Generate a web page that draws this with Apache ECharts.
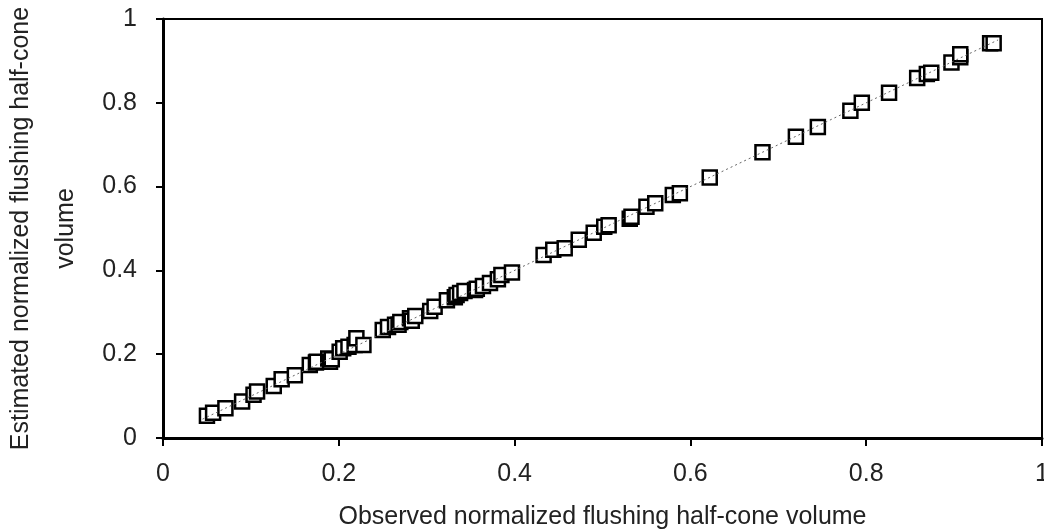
<!DOCTYPE html>
<html><head><meta charset="utf-8">
<script src="https://cdn.jsdelivr.net/npm/echarts@6/dist/echarts.min.js"></script>
<style>html,body{margin:0;padding:0;background:#fff}#c{width:1044px;height:532px}</style>
</head><body><div id="c"></div>
<script>
const observed = [0.050,0.057,0.071,0.090,0.103,0.107,0.126,0.135,0.150,0.167,0.174,0.175,0.188,0.190,0.192,0.201,0.205,0.211,0.218,0.220,0.228,
  0.250,0.256,0.264,0.268,0.270,0.281,0.283,0.287,0.304,0.309,0.323,0.332,0.334,0.338,0.343,0.355,0.357,0.364,0.372,0.381,0.385,0.397,
  0.433,0.444,0.457,0.473,0.490,0.502,0.507,0.531,0.533,0.550,0.560,0.580,0.588,
  0.622,0.682,0.720,0.745,0.782,0.795,0.826,0.858,0.869,0.874,0.897,0.907,0.907,0.941,0.945];
const estimated = [0.053,0.060,0.071,0.087,0.103,0.111,0.124,0.140,0.150,0.174,0.180,0.182,0.190,0.182,0.188,0.206,0.214,0.218,0.222,0.238,0.222,
  0.258,0.265,0.270,0.270,0.277,0.286,0.280,0.291,0.303,0.313,0.329,0.336,0.341,0.346,0.351,0.353,0.356,0.363,0.370,0.379,0.389,0.395,
  0.437,0.449,0.453,0.473,0.490,0.504,0.508,0.523,0.528,0.552,0.560,0.580,0.584,
  0.622,0.682,0.719,0.742,0.781,0.800,0.824,0.859,0.869,0.872,0.896,0.909,0.916,0.942,0.942];
const trendX = [0.045, 0.95];
const trendY = [0.045, 0.95];
const xTicks = [0, 0.2, 0.4, 0.6, 0.8, 1];
const yTicks = [0, 0.2, 0.4, 0.6, 0.8, 1];
const xTitle = 'Observed normalized flushing half-cone volume';
const yTitle = 'Estimated normalized flushing half-cone\nvolume';

const pts = observed.map((v,i)=>[v, estimated[i]]);
const trend = trendX.map((v,i)=>[v, trendY[i]]);
const font = '"Liberation Sans", Arial, sans-serif';
const chart = echarts.init(document.getElementById('c'), null, {renderer:'canvas'});
chart.setOption({
  animation:false,
  backgroundColor:'#fff',
  grid:{left:163,right:2,top:19,bottom:94,containLabel:false,outerBoundsMode:'none',
    show:true,borderColor:'#000',borderWidth:2,backgroundColor:'transparent'},
  xAxis:{type:'value',min:0,max:1,interval:0.2,
    name:xTitle,nameLocation:'middle',nameGap:67,
    nameTextStyle:{fontFamily:font,fontSize:25,color:'#222'},
    axisLine:{show:true,lineStyle:{color:'#000',width:3}},
    axisTick:{show:true,length:8,lineStyle:{color:'#000',width:2}},
    splitLine:{show:false},
    axisLabel:{margin:24,fontFamily:font,fontSize:25,color:'#222',
      formatter:v=>{const t=xTicks.find(k=>Math.abs(k-v)<1e-9);return t===undefined?'':String(t);}}},
  yAxis:{type:'value',min:0,max:1,interval:0.2,
    name:yTitle,nameLocation:'middle',nameGap:74,
    nameTextStyle:{fontFamily:font,fontSize:25,color:'#222',lineHeight:45},
    axisLine:{show:true,lineStyle:{color:'#000',width:3}},
    axisTick:{show:true,length:7,lineStyle:{color:'#000',width:2}},
    splitLine:{show:false},
    axisLabel:{margin:26,fontFamily:font,fontSize:25,color:'#222',
      formatter:v=>{const t=yTicks.find(k=>Math.abs(k-v)<1e-9);return t===undefined?'':String(t);}}},
  series:[
    {type:'scatter',data:pts,symbol:'rect',symbolSize:14,
      itemStyle:{color:'#fff',borderColor:'#000',borderWidth:2.5,opacity:1},z:2},
    {type:'line',data:trend,showSymbol:false,symbol:'none',
      lineStyle:{color:'#666',width:1,type:[2,3]},z:3}
  ]
});
</script></body></html>
